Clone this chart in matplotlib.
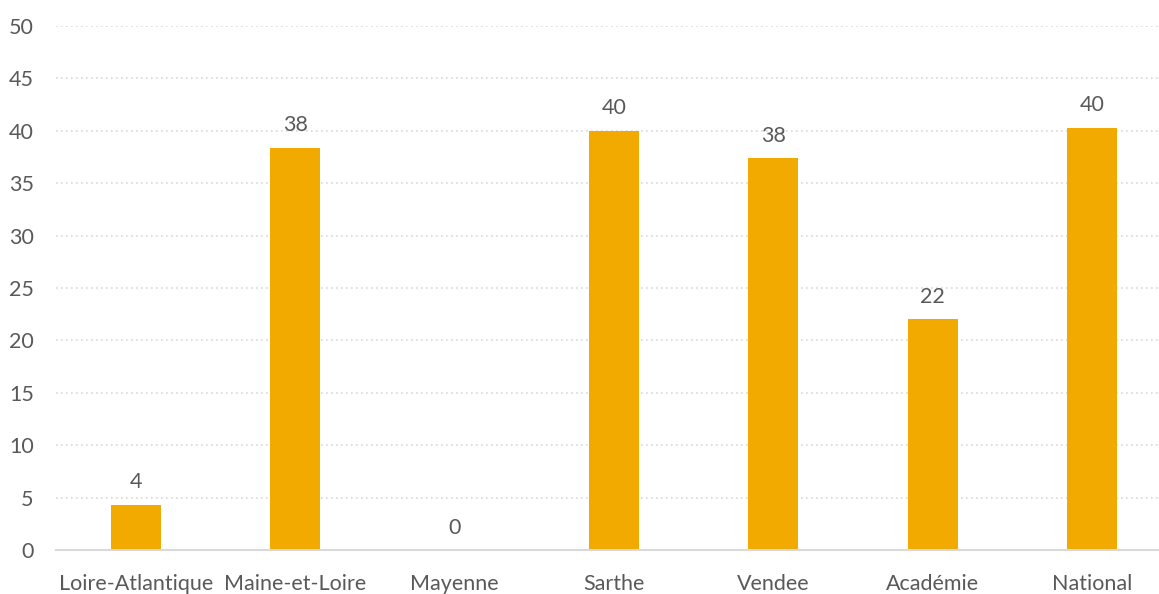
import matplotlib
matplotlib.use("Agg")
import matplotlib.pyplot as plt

categories = ["Loire-Atlantique", "Maine-et-Loire", "Mayenne", "Sarthe", "Vendee", "Académie", "National"]
values = [4.3, 38.4, 0.0, 40.0, 37.4, 22.0, 40.3]
labels = ["4", "38", "0", "40", "38", "22", "40"]
yticks = [0, 5, 10, 15, 20, 25, 30, 35, 40, 45, 50]

plt.rcParams['font.family'] = ['Lato', 'DejaVu Sans']
text_color = "#595959"
bar_color = "#F2A900"

fig = plt.figure(figsize=(11.59, 5.94), dpi=100)
ax = fig.add_axes([56/1159, 44/594, 1116/1159, 524/594])

x = list(range(len(categories)))
bars = ax.bar(x, values, width=0.313, color=bar_color, zorder=3)
for xi, v, lab in zip(x, values, labels):
    ax.annotate(lab, (xi, v), xytext=(0, 9), textcoords="offset points",
                ha="center", va="bottom", fontsize=15.5, color=text_color)

ax.set_xlim(-0.5, len(categories) - 0.5)
ax.set_ylim(0, 50)
ax.set_yticks(yticks)
ax.set_xticks(x)
ax.set_xticklabels(categories)
ax.tick_params(axis="both", length=0, labelsize=15.5, colors=text_color)
ax.tick_params(axis="x", pad=17)
ax.tick_params(axis="y", pad=16)
ax.yaxis.grid(True, linestyle=(0, (1, 2)), color="#D9D9D9", linewidth=1.2, zorder=0)
for s in ["top", "right", "left"]:
    ax.spines[s].set_visible(False)
ax.spines["bottom"].set_color("#D9D9D9")
ax.spines["bottom"].set_linewidth(1.5)
ax.spines["bottom"].set_zorder(4)

fig.savefig("out.png", dpi=100)
